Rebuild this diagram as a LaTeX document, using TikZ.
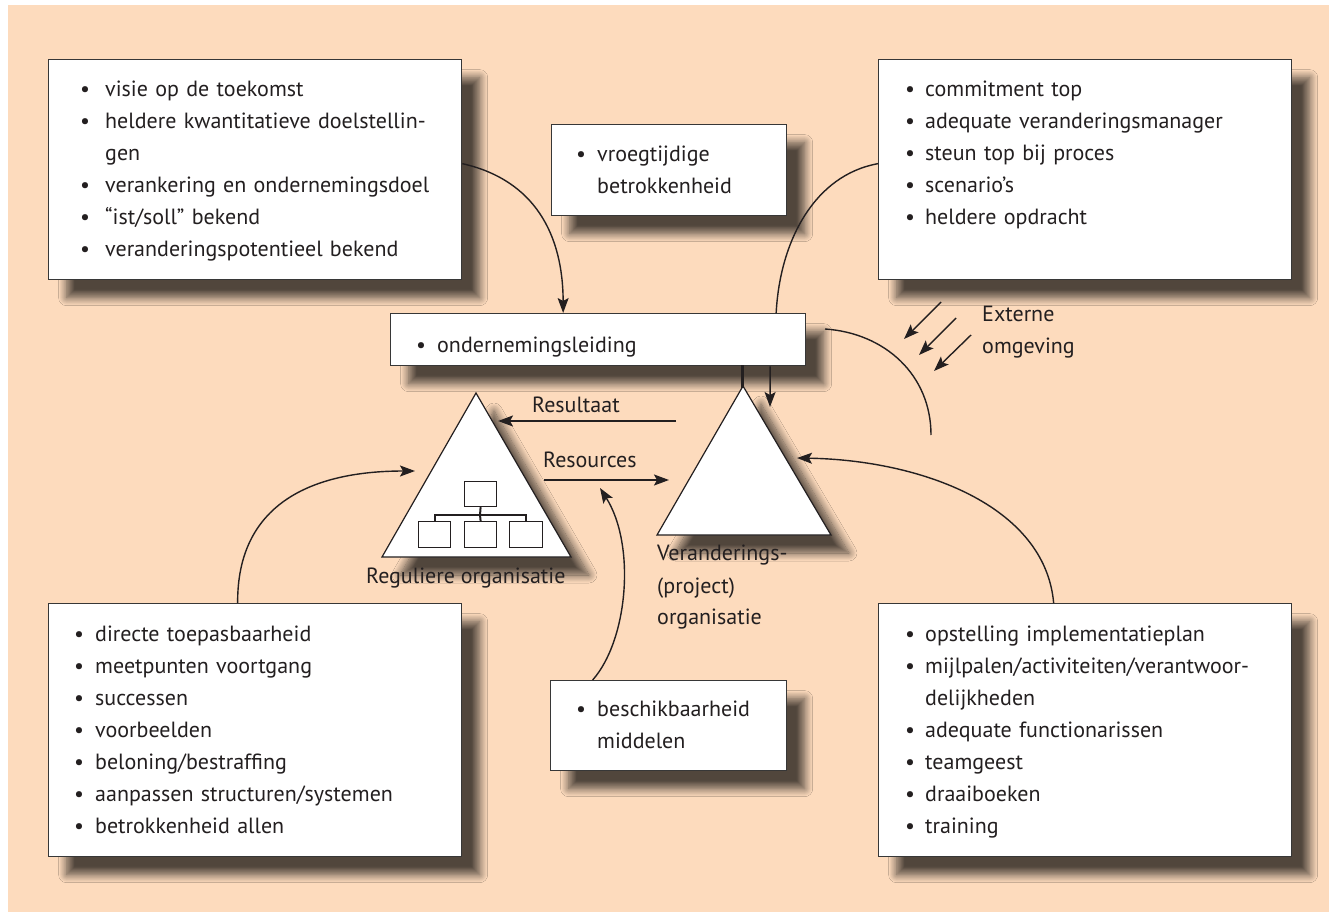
\documentclass[tikz,border=0pt]{standalone}
\usepackage{fontspec}
\setmainfont{PT Sans}
\usetikzlibrary{arrows.meta,shadows.blur}
\definecolor{peach}{RGB}{253,219,189}
\definecolor{ink}{RGB}{35,31,32}
\definecolor{edge}{RGB}{55,55,55}
\newlength{\bgap}
\newcommand{\bitem}{\makebox[\bgap][l]{\textbullet}}
\newcommand{\bcont}{\hspace*{\bgap}}
\begin{document}
\begin{tikzpicture}[x=1pt,y=-1pt,
  font=\fontsize{22}{32}\selectfont,
  shade/.style={blur shadow={shadow xshift=18pt,shadow yshift=-18pt,shadow blur radius=8pt,shadow opacity=68,shadow blur steps=12}},
  box/.style={draw=edge,line width=1.3pt,fill=white,anchor=north west,inner sep=0pt,shade},
  txt/.style={anchor=base west,inner sep=0pt,align=left,text=ink},
  lbl/.style={anchor=base west,inner sep=0pt,text=ink},
  tri/.style={draw=ink,line width=1.2pt,fill=white,shade},
  conn/.style={draw=ink,line width=1.4pt},
  arr/.style={conn,-{Stealth[length=15pt,width=11pt,inset=3pt]}},
  org/.style={draw=ink,line width=1.2pt,fill=white},
]
\useasboundingbox (0,0) rectangle (1329,912);
\fill[white] (0,0) rectangle (1329,912);
\fill[peach] (8,5) rectangle (1329,912);

% boxes
\node[box,minimum width=413pt,minimum height=220pt] (b1) at (48,59) {};
\node[box,minimum width=413pt,minimum height=220pt] (b2) at (878,59) {};
\node[box,minimum width=235pt,minimum height=91pt] (b3) at (551,124) {};
\node[box,minimum width=415pt,minimum height=52pt] (b4) at (390,313) {};
\node[box,minimum width=413pt,minimum height=253pt] (b5) at (48,603) {};
\node[box,minimum width=236pt,minimum height=90pt] (b6) at (550,680) {};
\node[box,minimum width=413pt,minimum height=253pt] (b7) at (878,603) {};

% triangles
\coordinate (ra) at (476,393);
\coordinate (rl) at (382,557);
\coordinate (rr) at (571,557);
\coordinate (va) at (743,386);
\coordinate (vl) at (657,535);
\coordinate (vr) at (831,535);
\draw[tri] (ra) -- (rl) -- (rr) -- cycle;
\draw[tri] (va) -- (vl) -- (vr) -- cycle;

% texts
\node[txt,text width=380pt] (t1) at (80,97) {\setlength{\bgap}{25pt}%
\bitem visie op de toekomst\\
\bitem heldere kwantitatieve doelstellin-\\
\bcont gen\\
\bitem verankering en ondernemingsdoel\\
\bitem ``ist/soll'' bekend\\
\bitem veranderingspotentieel bekend};
\node[txt,text width=380pt] (t2) at (905,97) {\setlength{\bgap}{20pt}%
\bitem commitment top\\
\bitem adequate veranderingsmanager\\
\bitem steun top bij proces\\
\bitem scenario’s\\
\bitem heldere opdracht};
\node[txt,text width=210pt] (t3) at (576,162) {\setlength{\bgap}{21pt}%
\bitem vroegtijdige\\
\bcont betrokkenheid};
\node[txt,text width=380pt] (t4) at (416,352) {\setlength{\bgap}{21pt}%
\bitem ondernemingsleiding};
\node[txt,text width=380pt] (t5) at (74,641) {\setlength{\bgap}{21pt}%
\bitem directe toepasbaarheid\\
\bitem meetpunten voortgang\\
\bitem successen\\
\bitem voorbeelden\\
\bitem beloning/bestraffing\\
\bitem aanpassen structuren/systemen\\
\bitem betrokkenheid allen};
\node[txt,text width=210pt] (t6) at (576,716) {\setlength{\bgap}{21pt}%
\bitem beschikbaarheid\\
\bcont middelen};
\node[txt,text width=380pt] (t7) at (905,641) {\setlength{\bgap}{20pt}%
\bitem opstelling implementatieplan\\
\bitem mijlpalen/activiteiten/verantwoor-\\
\bcont delijkheden\\
\bitem adequate functionarissen\\
\bitem teamgeest\\
\bitem draaiboeken\\
\bitem training};

% org chart
\node[org,minimum width=32pt,minimum height=25pt,inner sep=0pt,anchor=north west] (o1) at (464,481) {};
\node[org,minimum width=32pt,minimum height=26pt,inner sep=0pt,anchor=north west] (o2) at (418,521) {};
\node[org,minimum width=32pt,minimum height=26pt,inner sep=0pt,anchor=north west] (o3) at (464,521) {};
\node[org,minimum width=33pt,minimum height=26pt,inner sep=0pt,anchor=north west] (o4) at (509,521) {};
\coordinate (oj) at (480,515);
\draw[ink,line width=2pt] (o1.south) -- (oj);
\draw[ink,line width=2pt] (o2.north) |- (oj) -| (o4.north);
\draw[ink,line width=2pt] (oj) -- (o3.north);

% labels
\node[lbl] (lreg) at (366,583) {Reguliere organisatie};
\node[lbl] (lver) at (657,560) {Veranderings-};
\node[lbl] (lver2) at (657,593) {(project)};
\node[lbl] (lver3) at (657,624) {organisatie};
\node[lbl] (lres) at (532,412) {Resultaat};
\node[lbl] (lrsc) at (543,467) {Resources};
\node[lbl] (lext) at (982,321) {Externe};
\node[lbl] (lomg) at (982,353) {omgeving};

% central connectors
\coordinate (resS) at (676,421);
\coordinate (resE) at (498,421);
\draw[arr,line width=1.8pt] (resS) -- (resE);
\coordinate (rscS) at (544,480);
\coordinate (rscE) at (669,480);
\draw[arr,line width=1.8pt] (rscS) -- (rscE);
\draw[ink,line width=3pt] (742,365) -- (742,388);
\coordinate (dnE) at (770,407);
\draw[arr] ([xshift=172pt]b4.south) -- (dnE);

% curves
\draw[arr] ([yshift=6pt]b1.east) .. controls (535,180) and (563,235) .. ([xshift=-35pt]b4.north);
\draw[conn] ([yshift=6pt]b2.west) .. controls (815,175) and (780,240) .. ([xshift=178pt]b4.north);
\coordinate (regIn) at (415,471);
\draw[arr] ([xshift=-17.5pt]b5.north) .. controls (237,505) and (310,471) .. (regIn);
\coordinate (rscIn) at (600,488);
\draw[arr] ([xshift=-76pt]b6.north) .. controls (628,640) and (636,545) .. (rscIn);
\coordinate (verIn) at (797,458);
\draw[arr] ([xshift=-31.5pt]b7.north) .. controls (1045,505) and (920,460) .. (verIn);

% external environment
\coordinate (arcS) at (825,329);
\coordinate (arcE) at (931,435);
\draw[conn] (arcS) .. controls (885,333) and (931,375) .. (arcE);
\coordinate (e1s) at (941,302); \coordinate (e1e) at (904,339);
\coordinate (e2s) at (956,318); \coordinate (e2e) at (919,355);
\coordinate (e3s) at (971,335); \coordinate (e3e) at (934,371);
\draw[arr] (e1s) -- (e1e);
\draw[arr] (e2s) -- (e2e);
\draw[arr] (e3s) -- (e3e);
\end{tikzpicture}
\end{document}
